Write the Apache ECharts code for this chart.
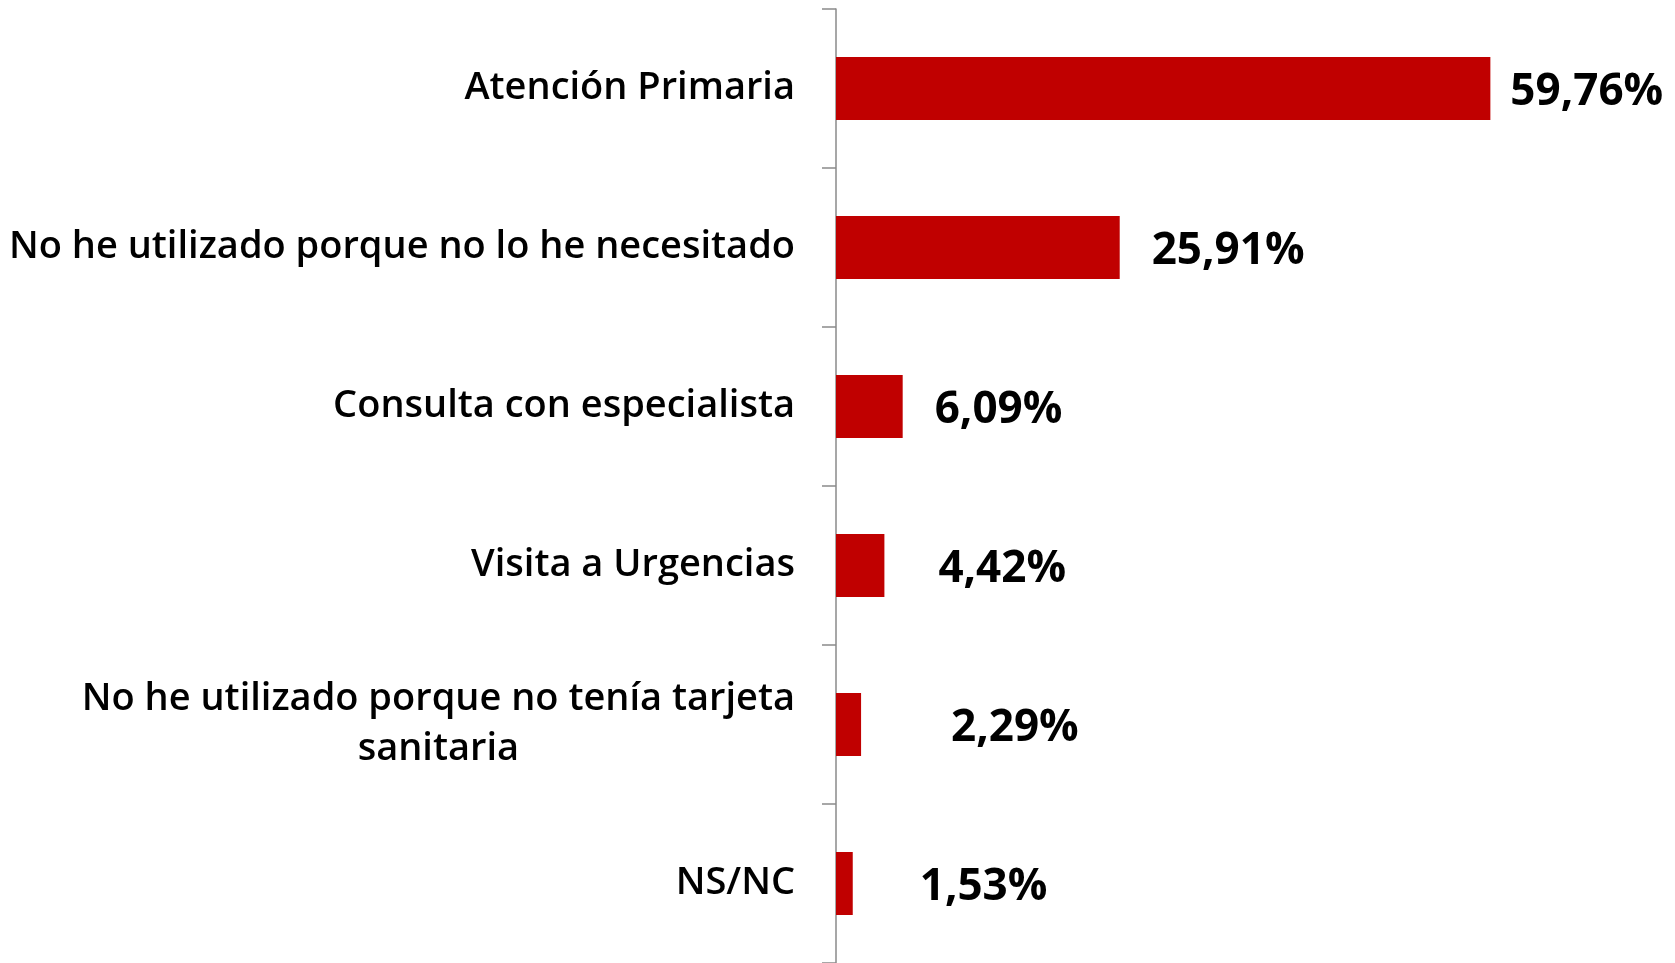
<!DOCTYPE html>
<html>
<head>
    <meta charset="utf-8">
    <title>ECharts</title>
    <script src="https://cdn.jsdelivr.net/npm/echarts@6/dist/echarts.min.js"></script>
</head>
<body style="margin:0;background:#fff;">
    <div id="main" style="width:1675px;height:963px;"></div>
    <script type="text/javascript">
        // categorías y porcentajes
        var categorias = [
            "Atención Primaria",
            "No he utilizado porque no lo he necesitado",
            "Consulta con especialista",
            "Visita a Urgencias",
            "No he utilizado porque no tenía tarjeta\nsanitaria",
            "NS/NC"
        ];
        var valores = [59.76, 25.91, 6.09, 4.42, 2.29, 1.53];
        var etiquetas = ["59,76%", "25,91%", "6,09%", "4,42%", "2,29%", "1,53%"];

        // separación de cada etiqueta respecto al final de la barra (estilo)
        var distEtiqueta = [20, 32, 32, 54, 90, 67];

        var myChart = echarts.init(document.getElementById('main'));

        var serieData = valores.map(function(v, i) {
            return {
                value: v,
                label: {
                    distance: distEtiqueta[i],
                    formatter: etiquetas[i]
                }
            };
        });

        var option = {
            animation: false,
            grid: {
                left: 836,
                top: 9,
                width: 657,
                height: 956,
                containLabel: false
            },
            xAxis: {
                type: 'value',
                min: 0,
                max: 60,
                show: false,
                splitLine: { show: false }
            },
            yAxis: {
                type: 'category',
                inverse: true,
                data: categorias,
                axisLine: {
                    show: true,
                    lineStyle: { color: '#8a8a8a', width: 1.5 }
                },
                axisTick: {
                    show: true,
                    length: 14,
                    interval: 0,
                    lineStyle: { color: '#8a8a8a', width: 1.5 }
                },
                axisLabel: {
                    margin: 41,
                    interval: 0,
                    color: '#000',
                    fontFamily: 'Open Sans',
                    fontWeight: 600,
                    fontSize: 38,
                    lineHeight: 50,
                    formatter: function(val) {
                        return val.split('\n').map(function(l) {
                            return '{c|' + l + '}';
                        }).join('\n');
                    },
                    rich: {
                        c: {
                            align: 'center',
                            color: '#000',
                            fontFamily: 'Open Sans',
                            fontWeight: 600,
                            fontSize: 38,
                            lineHeight: 50
                        }
                    }
                }
            },
            series: [{
                type: 'bar',
                data: serieData,
                barWidth: 63,
                itemStyle: { color: '#c00000' },
                label: {
                    show: true,
                    position: 'right',
                    offset: [0, 4],
                    color: '#000',
                    fontFamily: 'Open Sans',
                    fontWeight: 700,
                    fontSize: 44
                }
            }]
        };

        myChart.setOption(option);
    </script>
</body>
</html>
